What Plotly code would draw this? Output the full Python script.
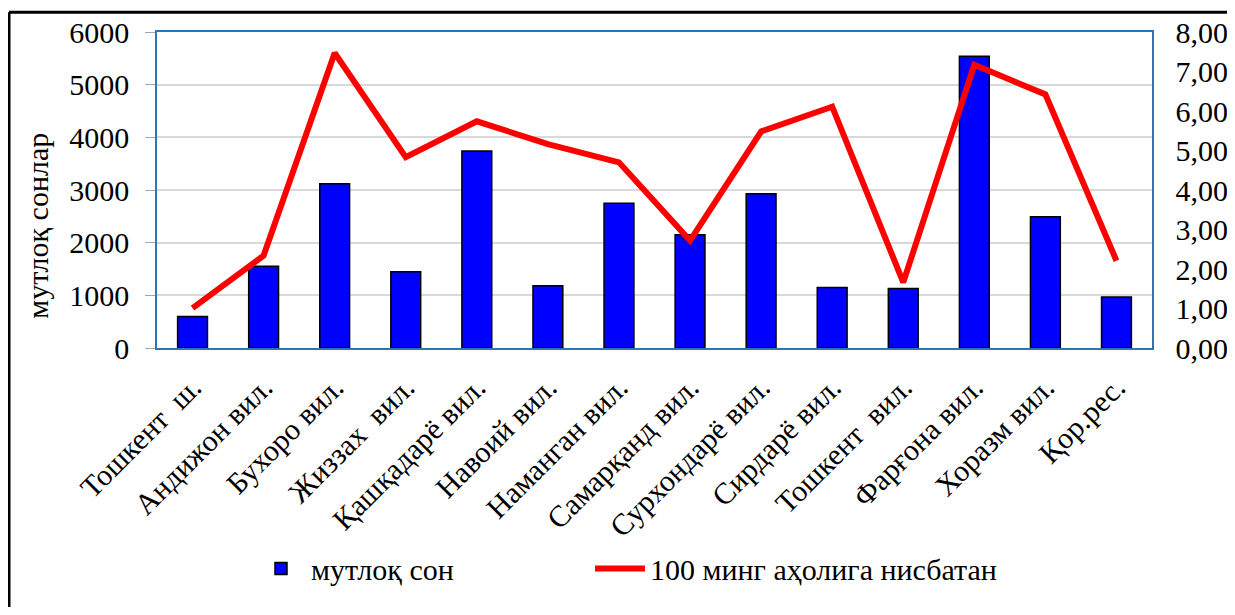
import plotly.graph_objects as go

categories = ["Тошкент  ш.", "Андижон вил.", "Бухоро вил.", "Жиззах  вил.", "Қашқадарё вил.",
              "Навоий вил.", "Наманган вил.", "Самарқанд вил.", "Сурхондарё вил.", "Сирдарё вил.",
              "Тошкент  вил.", "Фарғона вил.", "Хоразм вил.", "Қор.рес."]
absolute_counts = [600, 1550, 3120, 1450, 3740, 1180, 2750, 2150, 2930, 1150, 1130, 5540, 2490, 970]
per_100k = [1.01, 2.34, 7.47, 4.83, 5.74, 5.16, 4.70, 2.72, 5.48, 6.11, 1.66, 7.17, 6.42, 2.21]

left_ticks = [0, 1000, 2000, 3000, 4000, 5000, 6000]
right_ticks = [0, 1, 2, 3, 4, 5, 6, 7, 8]
right_tick_labels = ["0,00", "1,00", "2,00", "3,00", "4,00", "5,00", "6,00", "7,00", "8,00"]
y_title = "мутлоқ сонлар"

FONT = "Times New Roman, Liberation Serif, DejaVu Serif, serif"
BLUE_LINE = "#2e75b6"

fig = go.Figure()
fig.add_trace(go.Bar(
    x=categories, y=absolute_counts, name="мутлоқ сон",
    marker=dict(color="#0000ff", line=dict(color="black", width=1.5)),
    width=0.42, yaxis="y", legend="legend",
))
fig.add_trace(go.Scatter(
    x=categories, y=per_100k, name="100 минг аҳолига нисбатан",
    mode="lines", line=dict(color="#ff0000", width=6),
    yaxis="y2", legend="legend2",
))

# page body has an 8px margin, so the figure starts at (8, 8) on screen
OFF = 8
W, H = 1235 - 2 * OFF, 615 - 2 * OFF
L, T = 157 - OFF, 32 - OFF
R = W - (1152 - OFF)
B = H - (350 - OFF)
pw, ph = W - L - R, H - T - B

def px_x(sx):
    return (sx - OFF - L) / pw

def px_y(sy):
    return (350 - sy) / ph

legend_common = dict(orientation="h", xanchor="left", yanchor="middle",
                     font=dict(family=FONT, size=30), itemwidth=50,
                     bgcolor="rgba(0,0,0,0)")

NB = "\u00a0\u00a0\u00a0"

fig.update_layout(
    width=W, height=H,
    margin=dict(l=L, r=R, t=T, b=B, pad=0),
    paper_bgcolor="white", plot_bgcolor="white",
    font=dict(family=FONT, size=30, color="black"),
    separators=", ",
    showlegend=True,
    legend=dict(x=px_x(251), y=px_y(572), **legend_common),
    legend2=dict(x=px_x(590), y=px_y(572), **legend_common),
    xaxis=dict(
        tickangle=-45, tickfont=dict(family=FONT, size=30),
        showline=True, linecolor=BLUE_LINE, linewidth=1.5, mirror=True,
        showgrid=False, ticks="", automargin=False, ticklabelstandoff=8,
    ),
    yaxis=dict(
        range=[0, 6000], tickvals=left_ticks,
        tickfont=dict(family=FONT, size=30),
        showgrid=True, gridcolor="#d9d9d9", gridwidth=1.5,
        showline=True, linecolor=BLUE_LINE, linewidth=1.5, mirror=True,
        ticks="outside", ticklen=10, tickcolor="#a6a6a6", zeroline=False,
        ticklabelstandoff=10, automargin=False,
    ),
    yaxis2=dict(
        range=[0, 8], tickvals=right_ticks,
        ticktext=[NB + t for t in right_tick_labels],
        tickfont=dict(family=FONT, size=30),
        overlaying="y", side="right", showgrid=False, zeroline=False,
        ticks="", automargin=False,
    ),
    annotations=[
        dict(text=y_title, textangle=-90, xref="paper", yref="paper",
             x=px_x(38), y=px_y(227), xanchor="center", yanchor="middle",
             showarrow=False, font=dict(family=FONT, size=30)),
    ],
    shapes=[
        dict(type="line", xref="paper", yref="paper",
             x0=px_x(9), x1=px_x(1260),
             y0=px_y(12), y1=px_y(12),
             line=dict(color="black", width=3)),
        dict(type="line", xref="paper", yref="paper",
             x0=px_x(9), x1=px_x(9),
             y0=px_y(12), y1=px_y(640),
             line=dict(color="black", width=3)),
    ],
)

fig.write_html("out.html")
